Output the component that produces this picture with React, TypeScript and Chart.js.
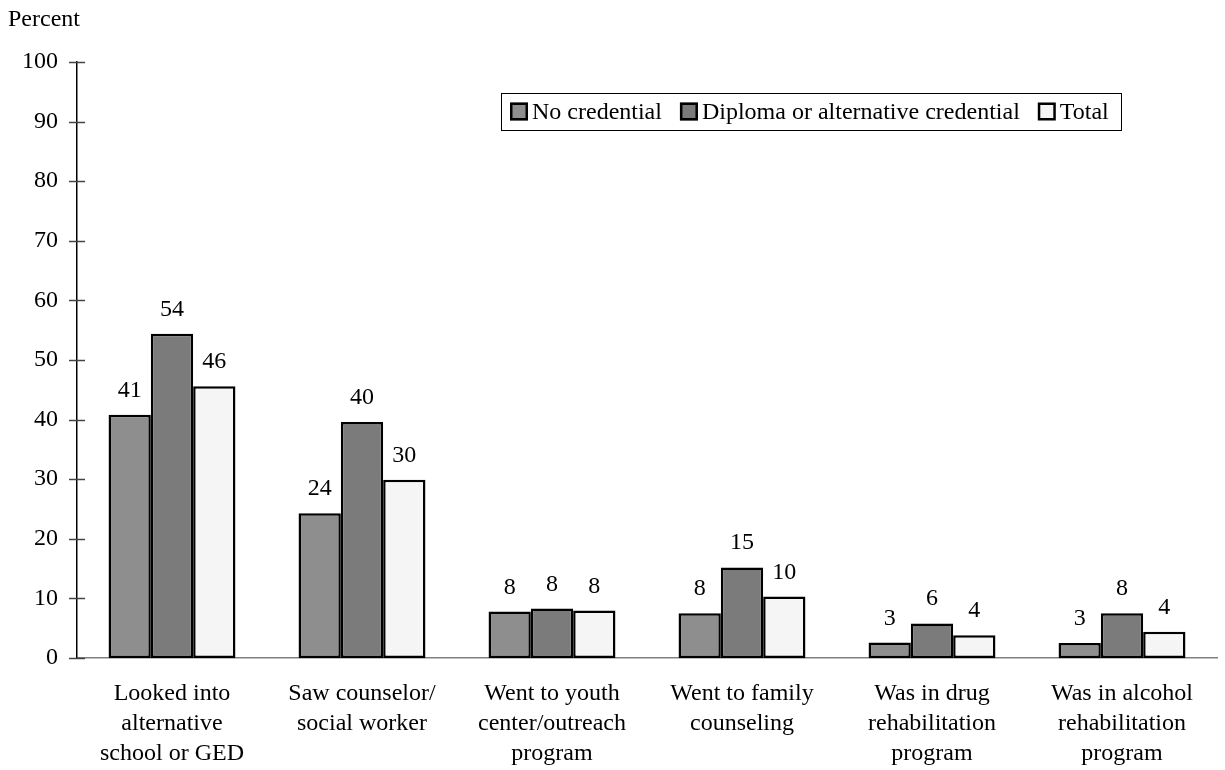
import React, { useEffect, useRef } from "react";
import { Chart, registerables } from "chart.js";

Chart.register(...registerables);

const categories: string[][] = [
  ["Looked into", "alternative", "school or GED"],
  ["Saw counselor/", "social worker"],
  ["Went to youth", "center/outreach", "program"],
  ["Went to family", "counseling"],
  ["Was in drug", "rehabilitation", "program"],
  ["Was in alcohol", "rehabilitation", "program"],
];

const seriesNames = ["No credential", "Diploma or alternative credential", "Total"];
const noCredential = [40.8, 24.3, 7.8, 7.5, 2.6, 2.5];
const diploma = [54.4, 39.6, 8.3, 15.2, 5.8, 7.5];
const total = [45.6, 29.9, 7.95, 10.3, 3.8, 4.4];
const noCredentialLabels = ["41", "24", "8", "8", "3", "3"];
const diplomaLabels = ["54", "40", "8", "15", "6", "8"];
const totalLabels = ["46", "30", "8", "10", "4", "4"];
const yTitle = "Percent";

const colors = ["#8e8e8e", "#7b7b7b", "#f5f5f5"];
const FONT = "'Liberation Serif', 'Times New Roman', serif";

const overlayPlugin = {
  id: "overlay",
  afterDraw(chart: any) {
    const ctx = chart.ctx as CanvasRenderingContext2D;
    const yScale = chart.scales.y;
    const area = chart.chartArea;
    ctx.save();
    // crossing tick marks
    ctx.strokeStyle = "#444";
    ctx.lineWidth = 1.5;
    yScale.ticks.forEach((t: any) => {
      const y = Math.round(yScale.getPixelForValue(t.value)) + 0.5;
      ctx.beginPath();
      ctx.moveTo(area.left - 8, y);
      ctx.lineTo(area.left + 8, y);
      ctx.stroke();
    });
    // axis title
    ctx.fillStyle = "#000";
    ctx.font = `24px ${FONT}`;
    ctx.textAlign = "left";
    ctx.textBaseline = "middle";
    ctx.fillText(yTitle, 8, 20);
    // data labels
    const labelSets = [noCredentialLabels, diplomaLabels, totalLabels];
    ctx.font = `24px ${FONT}`;
    ctx.textAlign = "center";
    ctx.textBaseline = "alphabetic";
    chart.data.datasets.forEach((ds: any, i: number) => {
      const meta = chart.getDatasetMeta(i);
      meta.data.forEach((bar: any, j: number) => {
        ctx.fillText(labelSets[i][j], bar.x, bar.y - 18);
      });
    });
    // legend box
    ctx.font = `24px ${FONT}`;
    const padL = 9, padR = 12, sw = 18, gap = 4, itemGap = 18;
    const widths = chart.data.datasets.map((ds: any) => ctx.measureText(ds.label).width);
    let w = padL + padR;
    widths.forEach((tw: number, i: number) => {
      w += sw + gap + tw + (i > 0 ? itemGap : 0);
    });
    const boxLeft = 501;
    const boxTop = 93, boxH = 37;
    ctx.fillStyle = "#fff";
    ctx.fillRect(boxLeft, boxTop, w, boxH);
    ctx.strokeStyle = "#000";
    ctx.lineWidth = 1;
    ctx.strokeRect(boxLeft + 0.5, boxTop + 0.5, Math.round(w), boxH);
    let x = boxLeft + padL;
    const cy = boxTop + boxH / 2;
    chart.data.datasets.forEach((ds: any, i: number) => {
      ctx.fillStyle = ds.backgroundColor;
      ctx.fillRect(x, cy - sw / 2, sw, sw);
      ctx.lineWidth = 2.5;
      ctx.strokeStyle = "#000";
      ctx.strokeRect(x + 1.25, cy - sw / 2 + 1.25, sw - 2.5, sw - 2.5);
      ctx.fillStyle = "#000";
      ctx.textAlign = "left";
      ctx.textBaseline = "middle";
      ctx.fillText(ds.label, x + sw + gap, cy + 1);
      x += sw + gap + widths[i] + itemGap;
    });
    ctx.restore();
  },
};

export default function App() {
  const canvasRef = useRef<HTMLCanvasElement | null>(null);
  useEffect(() => {
    const canvas = canvasRef.current;
    if (!canvas) return;
    const dataArrays = [noCredential, diploma, total];
    const chart = new Chart(canvas, {
      type: "bar",
      data: {
        labels: categories as any,
        datasets: seriesNames.map((name, i) => ({
          label: name,
          data: dataArrays[i],
          backgroundColor: colors[i],
          borderColor: "#000",
          borderWidth: 2.5,
          borderSkipped: false,
          categoryPercentage: 0.668,
          barPercentage: 1.0,
        })),
      },
      options: {
        responsive: false,
        animation: false,
        layout: { padding: { top: 62, right: 8, left: 0, bottom: 0 } },
        plugins: {
          legend: { display: false },
          tooltip: { enabled: false },
        },
        scales: {
          x: {
            grid: { display: false, drawTicks: false },
            border: { display: true, color: "#808080", width: 1.5 },
            ticks: {
              color: "#000",
              font: { family: FONT, size: 24, lineHeight: 1.27 },
              padding: 20,
              maxRotation: 0,
              autoSkip: false,
            },
            afterFit(scale: any) {
              scale.height = 112;
            },
          },
          y: {
            min: 0,
            max: 100,
            grid: { display: false, drawTicks: false },
            border: { display: true, color: "#000", width: 1.5 },
            ticks: {
              stepSize: 10,
              color: "#000",
              font: { family: FONT, size: 24 },
              padding: 19,
            },
            afterFit(scale: any) {
              scale.width = 77;
            },
          },
        },
      },
      plugins: [overlayPlugin],
    });
    return () => chart.destroy();
  }, []);
  return (
    <div style={{ position: "fixed", left: 0, top: 0, width: 1225, height: 770, background: "#fff" }}>
      <canvas ref={canvasRef} width={1225} height={770} style={{ display: "block" }} />
    </div>
  );
}
